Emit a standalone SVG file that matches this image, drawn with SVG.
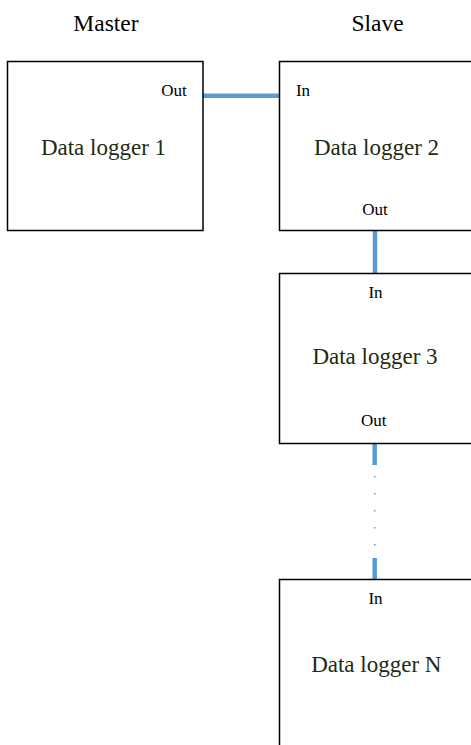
<svg xmlns="http://www.w3.org/2000/svg" width="471" height="745" viewBox="0 0 471 745">
<style>
.box{fill:#ffffff;stroke:#000000;stroke-width:1.5}
.hdr{font-family:"Liberation Serif","Times New Roman",serif;font-size:23.5px;fill:#000000;text-anchor:middle}
.port{font-family:"Liberation Serif","Times New Roman",serif;font-size:17px;fill:#000000;text-anchor:middle}
.name{font-family:"Liberation Serif","Times New Roman",serif;font-size:23px;fill:#1f2a10;text-anchor:middle}
.wire{stroke:#5b9bd5;stroke-width:4.5;fill:none}
.dot{fill:#5b9bd5}
</style>
<rect width="471" height="745" fill="#ffffff"/>
<text class="hdr" x="106" y="31">Master</text>
<text class="hdr" x="377.5" y="30.5">Slave</text>
<g id="connectors">
<line class="wire" x1="203" y1="95.7" x2="279" y2="95.7"/>
<line class="wire" x1="375" y1="230" x2="375" y2="273"/>
<line class="wire" x1="374.7" y1="444" x2="374.7" y2="465"/>
<rect class="dot" x="374" y="476" width="1.5" height="1.5"/>
<rect class="dot" x="374" y="493" width="1.5" height="1.5"/>
<rect class="dot" x="374" y="510" width="1.5" height="1.5"/>
<rect class="dot" x="374" y="527" width="1.5" height="1.5"/>
<rect class="dot" x="374" y="544" width="1.5" height="1.5"/>
<line class="wire" x1="374.7" y1="558" x2="374.7" y2="579"/>
</g>
<g id="logger1">
<rect class="box" x="7.5" y="61.5" width="195.5" height="169"/>
<text class="port" x="174" y="96">Out</text>
<text class="name" x="103.5" y="155">Data logger 1</text>
</g>
<g id="logger2">
<rect class="box" x="279.5" y="61.5" width="196" height="169"/>
<text class="port" x="303" y="96">In</text>
<text class="name" x="376.5" y="155">Data logger 2</text>
<text class="port" x="375" y="215">Out</text>
</g>
<g id="logger3">
<rect class="box" x="279.5" y="273.5" width="196" height="170"/>
<text class="port" x="375.5" y="297.5">In</text>
<text class="name" x="375" y="363.5">Data logger 3</text>
<text class="port" x="373.7" y="426">Out</text>
</g>
<g id="loggerN">
<rect class="box" x="279.5" y="579.5" width="196" height="180"/>
<text class="port" x="375.5" y="604">In</text>
<text class="name" x="376.3" y="671.5">Data logger N</text>
</g>
</svg>
